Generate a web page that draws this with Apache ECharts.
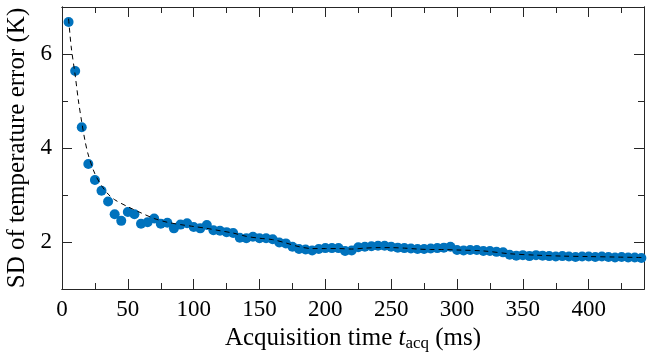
<!DOCTYPE html>
<html>
<head>
<meta charset="utf-8">
<script src="https://cdn.jsdelivr.net/npm/echarts@6/dist/echarts.min.js"></script>
<style>
  html, body { margin: 0; padding: 0; background: #fff; }
  #chart { width: 648px; height: 352px; }
</style>
</head>
<body>
<div id="chart"></div>
<script>
// acquisition time (ms) and measured SD (K)
var tAcq = [];
for (var t = 5; t <= 440; t += 5) tAcq.push(t);
var sdValues = [
  6.68, 5.64, 4.44, 3.66, 3.32, 3.09, 2.86, 2.59, 2.45, 2.64,
  2.59, 2.39, 2.42, 2.50, 2.39, 2.41, 2.29, 2.37, 2.40, 2.32,
  2.29, 2.36, 2.25, 2.24, 2.21, 2.19, 2.09, 2.08, 2.11, 2.08,
  2.08, 2.06, 1.99, 1.97, 1.90, 1.85, 1.84, 1.82, 1.85, 1.87,
  1.87, 1.87, 1.81, 1.82, 1.89, 1.90, 1.91, 1.92, 1.92, 1.90,
  1.88, 1.87, 1.86, 1.85, 1.85, 1.86, 1.87, 1.88, 1.90, 1.83,
  1.82, 1.83, 1.83, 1.81, 1.81, 1.79, 1.78, 1.73, 1.71, 1.72,
  1.70, 1.72, 1.71, 1.70, 1.69, 1.70, 1.69, 1.68, 1.69, 1.69,
  1.68, 1.69, 1.68, 1.67, 1.68, 1.67, 1.67, 1.66
];

// dashed fit curve
var fitT = [5, 7, 10, 12.5, 15, 17.5, 20, 25, 30, 35, 40, 50, 60, 70, 80, 90, 100,
  110, 120, 130, 140, 150, 160, 170, 180, 190, 200, 210, 220, 230, 240, 250,
  260, 270, 280, 290, 300, 320, 340, 360, 380, 400, 420, 440];
var fitValues = [6.75, 6.15, 5.55, 5.0, 4.55, 4.15, 3.85, 3.45, 3.2, 3.02, 2.9, 2.75, 2.62,
  2.5, 2.42, 2.37, 2.33, 2.29, 2.24, 2.19, 2.12, 2.08, 2.05, 1.98, 1.9, 1.86, 1.86,
  1.86, 1.85, 1.87, 1.88, 1.88, 1.87, 1.85, 1.84, 1.84, 1.83, 1.81, 1.75, 1.72,
  1.70, 1.69, 1.68, 1.67];

var xMajorTicks = [0, 50, 100, 150, 200, 250, 300, 350, 400];
var xMinorTicks = [25, 75, 125, 175, 225, 275, 325, 375, 425];
var yMajorTicks = [2, 4, 6];
var yMinorTicks = [1, 3, 5, 7];

var serif = "'Liberation Serif', 'DejaVu Serif', serif";
var ink = '#262626';

function xAx(pos, ticks, len, labels) {
  return {
    type: 'value', position: pos, min: 0, max: 442,
    axisLine: { show: true, onZero: false, lineStyle: { color: ink, width: 1 } },
    axisTick: { show: true, inside: true, length: len, customValues: ticks, lineStyle: { color: ink } },
    axisLabel: { show: labels, customValues: ticks, color: '#000', fontFamily: serif, fontSize: 23, margin: 9 },
    splitLine: { show: false }
  };
}
function yAx(pos, ticks, len, labels) {
  return {
    type: 'value', position: pos, min: 1, max: 7,
    axisLine: { show: true, onZero: false, lineStyle: { color: ink, width: 1 } },
    axisTick: { show: true, inside: true, length: len, customValues: ticks, lineStyle: { color: ink } },
    axisLabel: { show: labels, customValues: ticks, color: '#000', fontFamily: serif, fontSize: 23, margin: 10 },
    splitLine: { show: false }
  };
}

var xMain = xAx('bottom', xMajorTicks, 10, true);
xMain.name = '{n|Acquisition time }{i|t}{s|acq}{n| (ms)}';
xMain.nameLocation = 'middle';
xMain.nameGap = 28;
xMain.nameTextStyle = {
  rich: {
    n: { fontFamily: serif, fontSize: 25, color: '#000' },
    i: { fontFamily: serif, fontSize: 25, fontStyle: 'italic', color: '#000' },
    s: { fontFamily: serif, fontSize: 17, color: '#000', padding: [11, 0, 0, 0] }
  }
};
var yMain = yAx('left', yMajorTicks, 10, true);
yMain.name = 'SD of temperature error (K)';
yMain.nameLocation = 'middle';
yMain.nameGap = 32;
yMain.nameTextStyle = { fontFamily: serif, fontSize: 25, color: '#000' };

var fitData = fitT.map(function (x, i) { return [x, fitValues[i]]; });
var pointData = tAcq.map(function (x, i) { return [x, sdValues[i]]; });

var chart = echarts.init(document.getElementById('chart'));
chart.setOption({
  animation: false,
  grid: { left: 62, right: 4, top: 7, bottom: 63, outerBoundsMode: 'none' },
  xAxis: [
    xMain,
    xAx('bottom', xMinorTicks, 6, false),
    xAx('top', xMajorTicks, 10, false),
    xAx('top', xMinorTicks, 6, false)
  ],
  yAxis: [
    yMain,
    yAx('left', yMinorTicks, 6, false),
    yAx('right', yMajorTicks, 10, false),
    yAx('right', yMinorTicks, 6, false)
  ],
  series: [
    {
      type: 'scatter',
      data: pointData,
      symbolSize: 10,
      itemStyle: { color: '#0072BD', opacity: 1 },
      z: 2
    },
    {
      type: 'line',
      data: fitData,
      smooth: 0.3,
      showSymbol: false,
      lineStyle: { color: '#000', width: 1, type: [5, 4] },
      z: 3
    }
  ]
});
</script>
</body>
</html>
